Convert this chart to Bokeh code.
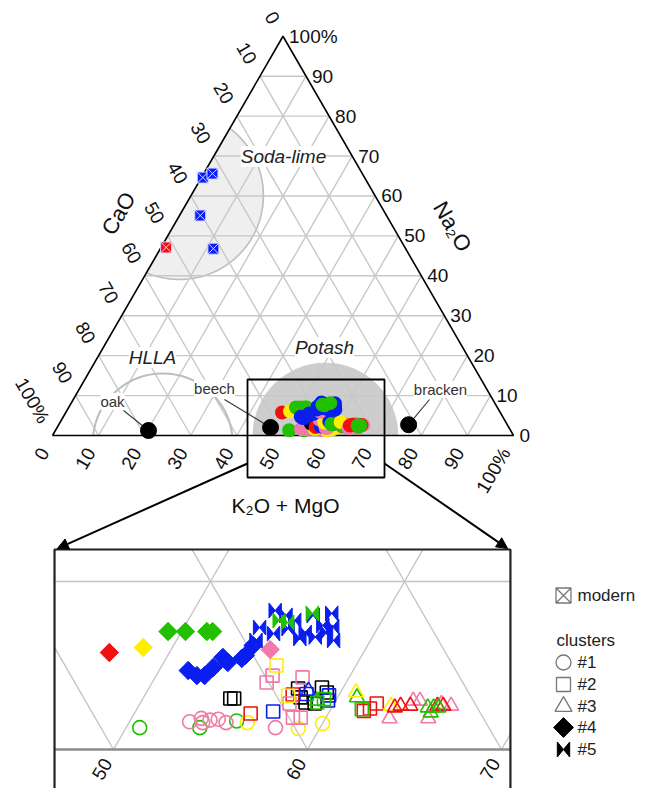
import numpy as np
from bokeh.plotting import figure
from bokeh.models import Range1d, Label, Arrow, NormalHead
from bokeh.embed import file_html
from bokeh.resources import INLINE
from bokeh.core.properties import value

# ---------------- data: (K2O+MgO, Na2O) in %, CaO = 100 - both ----------------
# cluster #1 (open circles)
c1_kmgo = [50.7, 53.8, 55.5, 53.1, 53.6, 53.8, 54.1, 54.5, 55.0, 57.7, 56.1, 58.9, 60.0]
c1_na2o = [1.3, 1.3, 1.7, 1.65, 1.85, 1.6, 1.75, 1.8, 1.6, 1.3, 1.6, 1.25, 1.55]
c1_grp = ["green", "green", "green", "pink", "pink", "pink", "pink", "pink", "pink", "pink",
          "yellow", "yellow", "yellow"]
# cluster #2 (open squares)
c2_kmgo = [54.5, 54.7, 57.7, 58.9, 59.3, 58.5, 59.0, 58.1,
           56.0, 57.6, 62.2, 62.0, 61.75,
           57.1, 59.6, 59.5, 58.3,
           55.9, 56.0, 57.6, 57.7, 58.3, 58.7,
           55.9, 57.4,
           59.1, 61.6, 59.35]
c2_na2o = [3.04, 3.04, 3.63, 3.69, 3.39, 2.80, 2.74, 3.10,
           2.14, 3.27, 2.74, 2.44, 2.3,
           2.26, 2.92, 3.22, 3.3,
           3.99, 4.4, 4.29, 2.74, 1.9, 1.9,
           5.0, 3.2,
           2.8, 2.4, 3.0]
c2_grp = ["black"] * 8 + ["red"] * 5 + ["blue"] * 4 + ["pink"] * 6 + ["yellow"] * 2 + ["green"] * 3
# cluster #3 (open triangles)
c3_kmgo = [58.3, 59.05, 61.0, 60.8, 63.0,
           63.3, 65.3, 66.1, 64.0, 64.35, 65.55,
           63.5, 64.0, 65.4, 65.7, 63.25,
           64.95, 65.25, 65.5, 65.25]
c3_na2o = [3.5, 2.9, 3.1, 3.4, 2.6,
           1.85, 1.85, 2.6, 2.9, 2.9, 2.7,
           2.6, 2.6, 2.6, 2.6, 2.5,
           2.5, 2.5, 2.5, 2.2]
c3_grp = ["blue", "green", "green", "yellow", "yellow"] + ["pink"] * 6 + ["red"] * 5 + ["green"] * 4
# cluster #4 (filled diamonds)
c4_kmgo = [46.9, 48.5, 49.3, 50.2, 51.3, 51.6,
           51.5, 52.1, 52.5, 52.7, 52.9, 53.3, 53.9, 54.0, 54.1, 55.1]
c4_na2o = [5.77, 6.07, 7.02, 7.02, 7.02, 7.02,
           4.7, 4.4, 4.4, 4.88, 5.48, 5.18, 5.42, 5.6, 6.19, 5.95]
c4_grp = ["red", "yellow", "green", "green", "green", "green"] + ["blue"] * 9 + ["pink"]
# cluster #5 (bowties)
c5_kmgo = [54.2, 54.9, 55.5, 56.4, 56.3, 57.1, 57.2, 58.1, 53.9, 54.1, 54.8, 56.3, 57.5,
           57.65, 55.4, 57.05, 54.7, 55.2, 56.2]
c5_na2o = [8.27, 7.98, 7.68, 6.96, 7.98, 7.38, 8.10, 6.49, 7.26, 6.49, 6.90, 6.61, 6.96,
           7.3, 7.2, 6.7, 7.68, 7.56, 8.10]
c5_grp = ["blue"] * 16 + ["green"] * 3
# modern glasses
mod_kmgo = [0.3, 1.9, 4.5, 11.5, 1.1]
mod_na2o = [64.6, 65.6, 55.1, 46.8, 47.1]
mod_grp = ["blue", "blue", "blue", "blue", "red"]
# reference plant ashes
ref_names = ["oak", "beech", "bracken"]
ref_kmgo = [20.2, 46.3, 75.9]
ref_na2o = [1.25, 2.0, 2.7]
# glass-type regions: centre (K2O+MgO, Na2O) and radius (in %)
soda_c, soda_r = (-2.5, 60.1), 18.2
potash_c, potash_r = (59.2, 0.0), 15.8
hlla_c, hlla_r = (24.9, -2.0), 15.2

ticks = list(range(0, 101, 10))
tick_labels = ["0", "10", "20", "30", "40", "50", "60", "70", "80", "90", "100%"]
inset_ticks = [50, 60, 70]
inset_tick_labels = ["50", "60", "70"]

PAL = {"red": "#f01010", "yellow": "#ffee00", "green": "#22c000", "blue": "#0a1ef0",
       "pink": "#f07aa8", "black": "#000000"}

# ---------------- geometry helpers ----------------
H = np.sqrt(3) / 2
S = 4.61                 # px per % in main triangle
W, HT = 639, 788
def P(xr, yr):           # layout position given in picture pixels -> data units
    return ((xr - 52) / S, (435 - yr) / S)

def cart(k, n):
    k = np.asarray(k, float); n = np.asarray(n, float)
    return k + n / 2, n * H

Z = 19.4 / S                       # inset magnification
I0 = P(113, 749)                   # where ternary point (50, 0) sits in the inset
def to_inset(X, Y):
    return I0[0] + (np.asarray(X) - 50) * Z, I0[1] + np.asarray(Y) * Z

IXR = (46.96, 70.46)               # inset window in ternary cartesian units
IYR = (-2.9, 10.31)

x0r = (0 - 52) / S
y1r = (435 - 0) / S
p = figure(width=W, height=HT, x_range=Range1d(x0r, x0r + W / S),
           y_range=Range1d(y1r - HT / S, y1r), output_backend="svg",
           toolbar_location=None, min_border=0, x_axis_location=None, y_axis_location=None)
p.grid.visible = False
p.outline_line_color = None
p.background_fill_color = "white"

FONT = value("Liberation Sans")

# ---------------- regions ----------------
sx, sy = cart([soda_c[0]], [soda_c[1]])
th = np.linspace(0, 2 * np.pi, 240)
cx = sx[0] + soda_r * np.cos(th); cy = sy[0] + soda_r * np.sin(th)
out = cy > np.sqrt(3) * cx
proj = cx * 0.5 + cy * H
cx = np.where(out, proj * 0.5, cx); cy = np.where(out, proj * H, cy)
p.patch(cx, cy, fill_color="#efefef", line_color="#bdbdbd", line_width=1.6)

px_, py_ = cart([potash_c[0]], [potash_c[1]])
p.wedge(x=px_, y=py_, radius=potash_r, start_angle=0, end_angle=np.pi,
        fill_color="#cdcdcd", line_color=None)

# ---------------- grid ----------------
segs = []
for v in range(10, 100, 10):
    segs.append((v / 2, v * H, 100 - v / 2, v * H))
    segs.append((v, 0, v + (100 - v) / 2, (100 - v) * H))
    segs.append((100 - v, 0, (100 - v) / 2, (100 - v) * H))
p.multi_line([[s[0], s[2]] for s in segs], [[s[1], s[3]] for s in segs],
             line_color="#c8c8c8", line_width=1.4)

hx, hy = cart([hlla_c[0]], [hlla_c[1]])
a0 = np.arcsin(-hy[0] / hlla_r)
p.arc(x=hx, y=hy, radius=hlla_r, start_angle=a0, end_angle=np.pi - a0,
      line_color="#bdbdbd", line_width=2)

# triangle
p.line([0, 100, 50, 0], [0, 0, 50 * np.sqrt(3), 0], line_color="black", line_width=1.6)

# ---------------- tick labels (main) ----------------
OFF = 16 / S
t = np.array(ticks, float)
bx, by = t - OFF * 0.5, -OFF * H * np.ones_like(t)
p.text(bx, by, text=tick_labels, angle=np.pi / 3, text_align="right", text_baseline="middle",
       text_font=FONT, text_font_size="19px", text_color="#111")
lx, ly = (100 - t) / 2 - OFF * 0.5, (100 - t) * H + OFF * H
p.text(lx, ly, text=tick_labels, angle=-np.pi / 3, text_align="right", text_baseline="middle",
       text_font=FONT, text_font_size="19px", text_color="#111")
rx, ry = 100 - t / 2 + 6 / S, t * H
p.text(rx, ry, text=tick_labels, text_align="left", text_baseline="middle",
       text_font=FONT, text_font_size="19px", text_color="#111")

# axis titles
for txt, pos, ang, fs in [("CaO", P(118, 213), np.pi / 3, "22px"),
                          ("Na\u2082O", P(452, 226), -np.pi / 3, "22px"),
                          ("K\u2082O + MgO", P(285, 505), 0, "21px")]:
    p.add_layout(Label(x=pos[0], y=pos[1], text=txt, angle=ang, text_align="center",
                       text_baseline="middle", text_font="Liberation Sans", text_font_size=fs,
                       text_color="#111"))

# region labels
for txt, pos in [("Soda-lime", P(283, 156)), ("HLLA", P(152, 357)), ("Potash", P(324, 347))]:
    p.add_layout(Label(x=pos[0], y=pos[1], text=txt, text_align="center", text_baseline="middle",
                       text_font="Liberation Sans", text_font_style="italic", text_font_size="19px",
                       text_color="#222", background_fill_color="white"))

# reference plant ashes
rfx, rfy = cart(ref_kmgo, ref_na2o)
lab_pos = [P(112, 401), P(214, 388), P(440, 389)]
lead_pos = [P(123, 410), P(224, 399), P(429, 399)]
p.segment([q[0] for q in lead_pos], [q[1] for q in lead_pos], rfx, rfy, line_color="#333", line_width=1.1)
for name, pos in zip(ref_names, lab_pos):
    p.add_layout(Label(x=pos[0], y=pos[1], text=name, text_align="center", text_baseline="middle",
                       text_font="Liberation Sans", text_font_size="15px", text_color="#333",
                       background_fill_color="white"))
p.scatter(rfx, rfy, size=16, marker="circle", fill_color="black", line_color="black")

# modern glasses
mx, my = cart(mod_kmgo, mod_na2o)
p.scatter(mx, my, marker="square_x", size=11, fill_color=[PAL[g] for g in mod_grp],
          line_color="#d8d8ff", line_width=1)

# cluster blobs in main triangle
for kk, nn, gg in [(c1_kmgo, c1_na2o, c1_grp), (c2_kmgo, c2_na2o, c2_grp), (c3_kmgo, c3_na2o, c3_grp),
                   (c4_kmgo, c4_na2o, c4_grp), (c5_kmgo, c5_na2o, c5_grp)]:
    X, Y = cart(kk, nn)
    p.scatter(X, Y, marker="circle", size=14, fill_color=[PAL[g] for g in gg], line_color=None)

# zoom box in main triangle
BX = P(247, 379); BX2 = P(384, 477)
p.quad(left=BX[0], right=BX2[0], top=BX[1], bottom=BX2[1], fill_color=None,
       line_color="black", line_width=1.8)

# ---------------- inset ----------------
ixl, iyb = to_inset(IXR[0], IYR[0]); ixr, iyt = to_inset(IXR[1], IYR[1])
ay = P(0, 463)[1]
p.add_layout(Arrow(end=NormalHead(size=11, fill_color="black", line_color="black"),
                   x_start=BX[0], y_start=ay, x_end=ixl + 0.6, y_end=iyt + 0.2,
                   line_color="black", line_width=2))
p.add_layout(Arrow(end=NormalHead(size=11, fill_color="black", line_color="black"),
                   x_start=BX2[0], y_start=ay, x_end=ixr - 0.6, y_end=iyt + 0.2,
                   line_color="black", line_width=2))

def clip(x0, y0, x1, y1, xmin, xmax, ymin, ymax):
    dx, dy = x1 - x0, y1 - y0
    t0, t1 = 0.0, 1.0
    for pp, qq in ((-dx, x0 - xmin), (dx, xmax - x0), (-dy, y0 - ymin), (dy, ymax - y0)):
        if pp == 0:
            if qq < 0:
                return None
        else:
            tt = qq / pp
            if pp < 0:
                t0 = max(t0, tt)
            else:
                t1 = min(t1, tt)
    if t0 > t1:
        return None
    return x0 + t0 * dx, y0 + t0 * dy, x0 + t1 * dx, y0 + t1 * dy

gx, gy = [], []
for s in segs:
    c = clip(*s, IXR[0], IXR[1], 0, IYR[1])
    if c:
        a, b = to_inset([c[0], c[2]], [c[1], c[3]])
        gx.append(list(a)); gy.append(list(b))
p.multi_line(gx, gy, line_color="#c4c4c4", line_width=1.4)
bx0, by0 = to_inset([IXR[0], IXR[1]], [0, 0])
p.line(bx0, by0, line_color="#8c8c8c", line_width=2.5)
p.quad(left=ixl, right=ixr, top=iyt, bottom=iyb, fill_color=None, line_color="#222", line_width=2.2)

it = np.array(inset_ticks, float)
itx, ity = to_inset(it, np.zeros_like(it))
off_i = 12 / S
p.text(itx - off_i * 0.5, ity - off_i * H, text=inset_tick_labels, angle=np.pi / 3,
       text_align="right", text_baseline="middle", text_font=FONT, text_font_size="19px",
       text_color="#111")

def inset_pts(kk, nn):
    X, Y = cart(kk, nn)
    return to_inset(X, Y)

x1_, y1_ = inset_pts(c1_kmgo, c1_na2o)
p.scatter(x1_, y1_, marker="circle", size=14, fill_color=None,
          line_color=[PAL[g] for g in c1_grp], line_width=1.6)
x2_, y2_ = inset_pts(c2_kmgo, c2_na2o)
p.scatter(x2_, y2_, marker="square", size=13, fill_color=None,
          line_color=[PAL[g] for g in c2_grp], line_width=1.6)
x3_, y3_ = inset_pts(c3_kmgo, c3_na2o)
p.scatter(x3_, y3_, marker="triangle", size=15, fill_color=None,
          line_color=[PAL[g] for g in c3_grp], line_width=1.6)
x4_, y4_ = inset_pts(c4_kmgo, c4_na2o)
p.scatter(x4_, y4_, marker="square", angle=np.pi / 4, size=13, fill_color=[PAL[g] for g in c4_grp],
          line_color=[PAL[g] for g in c4_grp], line_width=1)
x5_, y5_ = inset_pts(c5_kmgo, c5_na2o)
bw, bh = 6.2 / S, 7.5 / S
def bowties(xs, ys):
    return ([[x - bw, x - bw, x + bw, x + bw] for x in xs],
            [[y + bh, y - bh, y + bh, y - bh] for y in ys])
bxs, bys = bowties(x5_, y5_)
p.patches(bxs, bys, fill_color=[PAL[g] for g in c5_grp], line_color=[PAL[g] for g in c5_grp],
          line_width=1)

# ---------------- legend ----------------
LM = 563
leg_rows = {"modern": 595, "#1": 662, "#2": 684, "#3": 706, "#4": 727, "#5": 749}
def lp(row):
    return P(LM, leg_rows[row])
lg = "#777777"
q = lp("modern"); p.scatter([q[0]], [q[1]], marker="square_x", size=15, fill_color=None, line_color=lg, line_width=1.3)
q = lp("#1"); p.scatter([q[0]], [q[1]], marker="circle", size=15, fill_color=None, line_color=lg, line_width=1.3)
q = lp("#2"); p.scatter([q[0]], [q[1]], marker="square", size=14, fill_color=None, line_color=lg, line_width=1.3)
q = lp("#3"); p.scatter([q[0]], [q[1]], marker="triangle", size=17, fill_color=None, line_color=lg, line_width=1.3)
q = lp("#4"); p.scatter([q[0]], [q[1]], marker="square", angle=np.pi / 4, size=14, fill_color="black", line_color="black")
q = lp("#5"); lbx, lby = bowties([q[0]], [q[1]])
p.patches(lbx, lby, fill_color="black", line_color="black")
for row in leg_rows:
    q = P(577, leg_rows[row])
    p.add_layout(Label(x=q[0], y=q[1], text=row, text_align="left", text_baseline="middle",
                       text_font="Liberation Sans", text_font_size="17px", text_color="#222"))
q = P(556, 640)
p.add_layout(Label(x=q[0], y=q[1], text="clusters", text_align="left", text_baseline="middle",
                   text_font="Liberation Sans", text_font_size="17px", text_color="#222"))

open("out.html", "w").write(file_html(p, INLINE))
